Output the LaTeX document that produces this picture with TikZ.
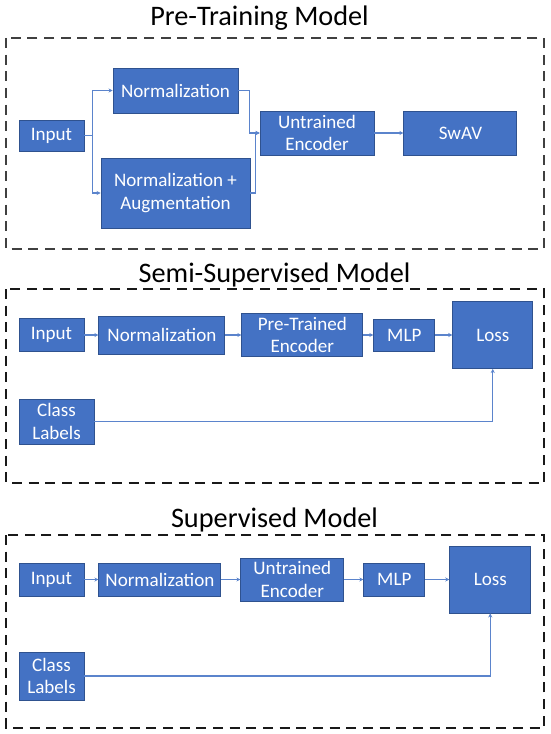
\documentclass[tikz,border=0pt]{standalone}
\usepackage{fontspec}
\setmainfont{Carlito}
\usepackage{tikz}
\usetikzlibrary{arrows.meta, positioning}
\definecolor{boxblue}{HTML}{4472C4}
\definecolor{boxedge}{HTML}{2F528F}
\definecolor{linkblue}{HTML}{5B84CC}

\begin{document}
\begin{tikzpicture}[
    x=0.75pt, y=-0.75pt,
    node distance=10.5pt,
    box/.style={rectangle, draw=boxedge, line width=0.7pt, fill=boxblue, text=white, inner sep=1pt, align=center, font=\fontsize{14.3}{17}\selectfont},
    title/.style={anchor=base, font=\fontsize{21.2}{24}\selectfont},
    frame/.style={dashed, dash pattern=on 7.5pt off 5pt, line width=1.4pt},
    arrow/.style={-{Stealth[length=3pt, width=3pt]}, draw=linkblue, line width=0.8pt}
]
\useasboundingbox (0,0) rectangle (550,734);

% pre-training
\node[title] (t1) at (259.5,26) {Pre-Training Model};
\draw[frame, black!75] (6,38) rectangle (544,249);
\node[box, minimum width=48.75pt, minimum height=23.25pt] (in1) at (51.5,135.5) {Input};
\node[box, minimum width=93.75pt, minimum height=33.75pt] (norm1) at (175.5,90.5) {Normalization};
\node[box, minimum width=111.75pt, minimum height=52.5pt] (aug1) at (175.5,193) {Normalization +\\Augmentation};
\node[box, minimum width=85.5pt, minimum height=33pt] (enc1) at (317,133) {Untrained\\Encoder};
\node[box, minimum width=84.75pt, minimum height=33pt, right=21.75pt of enc1] (swav) {SwAV};

\draw[arrow] (in1.east) -- ++(8,0) |- (norm1.west);
\draw[arrow] (in1.east) -- ++(8,0) |- (aug1.west);
\draw[arrow] (norm1.east) -- ++(11,0) |- (enc1.west);
\draw[arrow] (aug1.east) -- ++(5,0) |- (enc1.west);
\draw[arrow] (enc1) -- (swav);

% semi-supervised
\node[title] (t2) at (274.5,282) {Semi-Supervised Model};
\draw[frame, black!90] (6,289) rectangle (544,483);
\node[box, minimum width=48.75pt, minimum height=24.75pt] (in2) at (51.5,335) {Input};
\node[box, minimum width=94.5pt, minimum height=28.5pt, right=of in2] (norm2) {Normalization};
\node[box, minimum width=90.75pt, minimum height=32.25pt, right=12pt of norm2] (ptenc) {Pre-Trained\\Encoder};
\node[box, minimum width=45.75pt, minimum height=24pt, right=7.5pt of ptenc] (mlp2) {MLP};
\node[box, minimum width=60pt, minimum height=50.25pt, right=12.75pt of mlp2] (loss2) {Loss};
\node[box, minimum width=56.25pt, minimum height=33.75pt] (cls2) at (56.5,421.5) {Class\\Labels};

\draw[arrow] (in2) -- (norm2);
\draw[arrow] (norm2) -- (ptenc);
\draw[arrow] (ptenc) -- (mlp2);
\draw[arrow] (mlp2) -- (loss2);
\draw[arrow] (cls2.east) -| (loss2.south);

% supervised
\node[title] (t3) at (274.5,527) {Supervised Model};
\draw[frame, black!90] (6,535) rectangle (544,728);
\node[box, minimum width=48.75pt, minimum height=24.75pt] (in3) at (51.5,579.5) {Input};
\node[box, minimum width=91.5pt, minimum height=24.75pt, right=of in3] (norm3) {Normalization};
\node[box, minimum width=77.25pt, minimum height=32.25pt, right=14.25pt of norm3] (enc3) {Untrained\\Encoder};
\node[box, minimum width=45.75pt, minimum height=24.75pt, right=14.25pt of enc3] (mlp3) {MLP};
\node[box, minimum width=60.75pt, minimum height=50.25pt, right=18pt of mlp3] (loss3) {Loss};
\node[box, minimum width=48.75pt, minimum height=36pt] (cls3) at (51.5,676) {Class\\Labels};

\draw[arrow] (in3) -- (norm3);
\draw[arrow] (norm3) -- (enc3);
\draw[arrow] (enc3) -- (mlp3);
\draw[arrow] (mlp3) -- (loss3);
\draw[arrow] (cls3.east) -| (loss3.south);
\end{tikzpicture}
\end{document}
